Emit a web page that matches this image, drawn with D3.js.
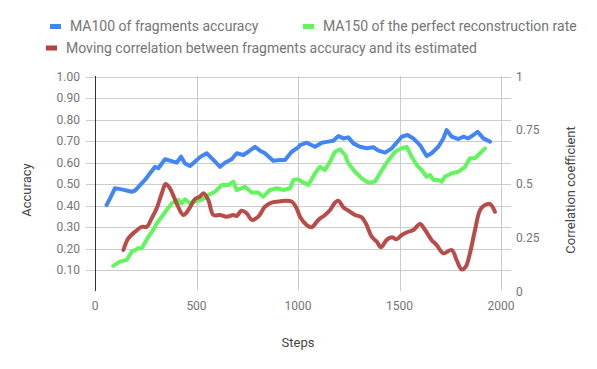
<!DOCTYPE html>
<html><head><meta charset="utf-8">
<script src="https://cdn.jsdelivr.net/npm/d3@7"></script>
<style>body{margin:0;background:#fff}svg{display:block;font-family:Roboto,sans-serif}</style>
</head><body><div id="c"></div>
<script>
const blueSteps = [57,74,98,131,181,197,222,246,271,296,312,345,386,402,424,443,468,493,517,550,583,616,640,673,698,731,755,788,813,837,878,911,936,969,1001,1010,1043,1084,1117,1149,1174,1199,1223,1248,1273,1305,1338,1371,1396,1429,1462,1494,1511,1540,1568,1601,1634,1658,1691,1716,1732,1757,1790,1814,1839,1864,1885,1913,1946];
const blueVals = [0.402,0.433,0.48,0.475,0.464,0.469,0.495,0.519,0.55,0.58,0.573,0.615,0.604,0.599,0.627,0.596,0.584,0.604,0.625,0.643,0.612,0.58,0.599,0.615,0.643,0.635,0.65,0.673,0.655,0.643,0.608,0.612,0.612,0.65,0.67,0.681,0.692,0.673,0.692,0.697,0.701,0.723,0.712,0.717,0.689,0.673,0.666,0.671,0.655,0.646,0.666,0.701,0.72,0.728,0.712,0.681,0.63,0.643,0.673,0.712,0.751,0.72,0.709,0.72,0.712,0.728,0.743,0.712,0.697];
const greenSteps = [90,123,156,181,213,230,263,287,304,329,353,378,411,427,443,468,493,526,558,591,624,657,681,698,739,772,804,829,862,895,928,961,977,1001,1018,1051,1084,1108,1133,1158,1182,1207,1232,1248,1281,1314,1347,1379,1404,1429,1453,1478,1511,1535,1560,1585,1609,1634,1650,1667,1691,1708,1724,1757,1790,1823,1847,1872,1897,1921];
const greenVals = [0.119,0.139,0.147,0.185,0.201,0.201,0.255,0.286,0.317,0.348,0.379,0.41,0.426,0.41,0.429,0.41,0.418,0.426,0.449,0.464,0.495,0.495,0.511,0.472,0.487,0.46,0.46,0.441,0.472,0.48,0.472,0.48,0.519,0.522,0.511,0.495,0.55,0.58,0.565,0.604,0.65,0.661,0.635,0.596,0.557,0.526,0.506,0.511,0.55,0.588,0.62,0.65,0.666,0.673,0.627,0.588,0.565,0.534,0.542,0.519,0.519,0.511,0.534,0.55,0.557,0.58,0.62,0.62,0.643,0.666];
const redSteps = [140,164,197,230,255,279,304,329,348,369,402,435,460,493,517,534,558,583,616,649,681,698,722,747,772,804,837,870,903,936,969,993,1010,1043,1067,1100,1133,1158,1182,1199,1223,1248,1281,1314,1338,1363,1388,1409,1437,1462,1486,1511,1543,1568,1601,1626,1658,1683,1716,1757,1781,1806,1826,1847,1872,1897,1921,1946,1970];
const redVals = [0.193,0.247,0.278,0.301,0.301,0.34,0.387,0.457,0.5,0.48,0.41,0.356,0.379,0.43,0.441,0.457,0.426,0.356,0.356,0.348,0.356,0.351,0.376,0.364,0.333,0.348,0.394,0.413,0.418,0.422,0.418,0.387,0.348,0.309,0.299,0.333,0.356,0.379,0.413,0.422,0.392,0.376,0.356,0.345,0.309,0.255,0.232,0.206,0.24,0.252,0.243,0.263,0.278,0.286,0.314,0.286,0.24,0.216,0.178,0.193,0.147,0.103,0.115,0.178,0.286,0.379,0.402,0.407,0.371];
const leftTicks = [0.1,0.2,0.3,0.4,0.5,0.6,0.7,0.8,0.9,1.0];
const rightTicks = [0,0.25,0.5,0.75,1];
const xTicks = [0,500,1000,1500,2000];
const seriesNames = ["MA100 of fragments accuracy","MA150 of the perfect reconstruction rate","Moving correlation between fragments accuracy and its estimated"];
const colors = ["#4285f4","#63f55f","#b5423f"];

const W=597,H=369;
const svg=d3.select("#c").append("svg").attr("width",W).attr("height",H);
const x=d3.scaleLinear().domain([0,2000]).range([95,501]);
const yL=d3.scaleLinear().domain([0,1]).range([291.5,76.5]);
const yR=d3.scaleLinear().domain([0,1]).range([291.5,76.5]);
const grid="#cccccc", lab="#757575";

svg.append("g").selectAll("line").data(leftTicks).join("line")
  .attr("x1",86).attr("x2",511).attr("y1",d=>Math.round(yL(d))+0.5).attr("y2",d=>Math.round(yL(d))+0.5)
  .attr("stroke",grid);
svg.append("g").selectAll("line").data(xTicks.filter(d=>d>0)).join("line")
  .attr("x1",d=>Math.round(x(d))+0.5).attr("x2",d=>Math.round(x(d))+0.5).attr("y1",76).attr("y2",291)
  .attr("stroke",grid);
svg.append("line").attr("x1",95.5).attr("x2",95.5).attr("y1",76).attr("y2",291).attr("stroke","#333");

svg.append("g").selectAll("text").data(leftTicks).join("text")
  .attr("x",80).attr("y",d=>yL(d)).attr("dy","0.35em").attr("text-anchor","end")
  .attr("font-size",12).attr("fill",lab).text(d=>d3.format(".2f")(d));
svg.append("g").selectAll("text").data(rightTicks).join("text")
  .attr("x",516).attr("y",d=>yR(d)).attr("dy","0.35em").attr("text-anchor","start")
  .attr("font-size",12).attr("fill",lab).text(d=>String(d));
svg.append("g").selectAll("text").data(xTicks).join("text")
  .attr("x",d=>x(d)).attr("y",306).attr("dy","0.35em").attr("text-anchor","middle")
  .attr("font-size",12).attr("fill",lab).text(d=>d);

svg.append("text").attr("transform","translate(31,190) rotate(-90)").attr("text-anchor","middle")
  .attr("font-size",13).attr("fill","#444").text("Accuracy");
svg.append("text").attr("transform","translate(575,190) rotate(-90)").attr("text-anchor","middle")
  .attr("font-size",13).attr("fill","#444").text("Correlation coefficient");
svg.append("text").attr("x",298).attr("y",347).attr("text-anchor","middle")
  .attr("font-size",13).attr("fill","#444").text("Steps");

const lineL=d3.line().x(d=>x(d[0])).y(d=>yL(d[1]));
const lineR=d3.line().x(d=>x(d[0])).y(d=>yR(d[1])).curve(d3.curveCatmullRom);
svg.append("path").datum(d3.zip(greenSteps,greenVals)).attr("d",lineL).attr("fill","none")
  .attr("stroke",colors[1]).attr("stroke-width",4).attr("stroke-linejoin","round").attr("stroke-linecap","round");
svg.append("path").datum(d3.zip(blueSteps,blueVals)).attr("d",lineL).attr("fill","none")
  .attr("stroke",colors[0]).attr("stroke-width",4).attr("stroke-linejoin","round").attr("stroke-linecap","round");
svg.append("path").datum(d3.zip(redSteps,redVals)).attr("d",lineR).attr("fill","none")
  .attr("stroke",colors[2]).attr("stroke-width",4).attr("stroke-linejoin","round").attr("stroke-linecap","round").attr("opacity",0.95);

const leg=[{i:0,x:50,y:26.5},{i:1,x:303,y:26.5},{i:2,x:46,y:48}];
const lg=svg.append("g").selectAll("g").data(leg).join("g").attr("transform",d=>`translate(${d.x},${d.y})`);
lg.append("rect").attr("x",0).attr("y",-2.5).attr("width",11).attr("height",5).attr("fill",d=>colors[d.i]);
lg.append("text").attr("x",20).attr("y",0).attr("dy","0.35em").attr("font-size",14).attr("fill","#757575").text(d=>seriesNames[d.i]);
</script></body></html>
